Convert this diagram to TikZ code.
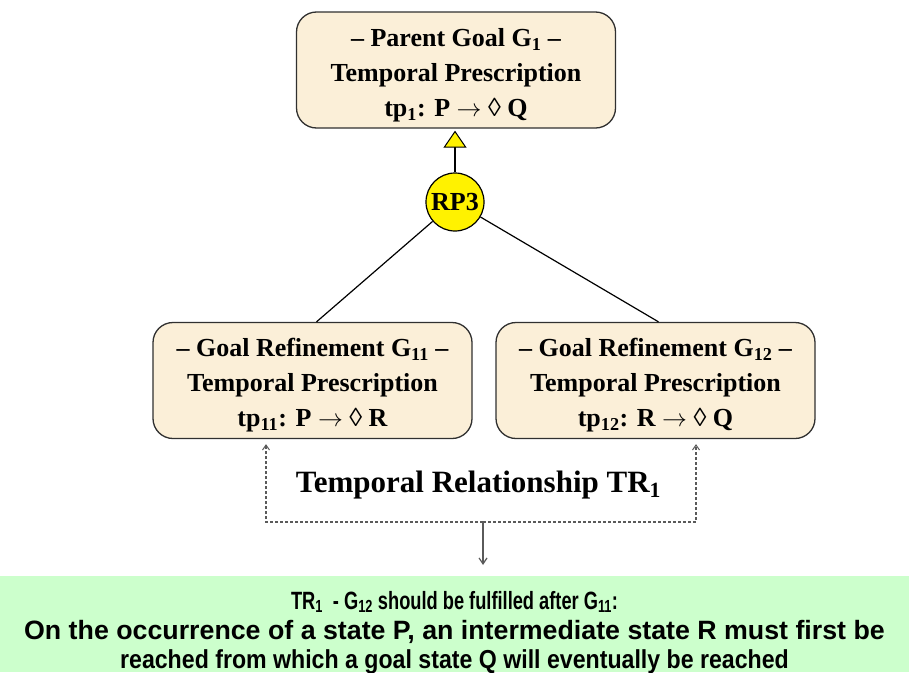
\documentclass[tikz,border=0pt]{standalone}
\usepackage{fontspec}
\setmainfont{Liberation Serif}
\newfontfamily\notefont{Liberation Sans}
\usetikzlibrary{arrows.meta}
\definecolor{parch}{HTML}{FBEFD8}
\definecolor{boxline}{HTML}{303030}
\definecolor{notegreen}{HTML}{CCFFCC}
\definecolor{relgray}{HTML}{5A5A5A}
\newcommand{\implarrow}{\ensuremath{\rightarrow}}
% one line of the explanation: horizontal scale, font size, text
\newcommand{\noteline}[3]{\scalebox{#1}[1]{\fontsize{#2}{#2}\selectfont #3}}
\begin{document}
\begin{tikzpicture}[x=1pt,y=-1pt,
  goalbox/.style={draw=boxline, line width=1.3pt, fill=parch,
    rounded corners=20pt, minimum width=319pt, minimum height=116pt,
    inner sep=0pt, align=center,
    font=\fontsize{26}{35}\selectfont\bfseries},
  refnode/.style={circle, draw=black, line width=1.2pt, fill=yellow,
    minimum size=58pt, inner sep=0pt,
    font=\fontsize{26}{30}\selectfont\bfseries},
  link/.style={draw=black, line width=1.2pt},
  relpath/.style={draw=relgray, line width=1.1pt, dash pattern=on 2.6pt off 2.4pt,
    -{Straight Barb[length=5pt,width=7pt,line width=1pt]}, shorten >=5pt},
  relout/.style={draw=relgray, line width=1.6pt,
    -{Straight Barb[length=6pt,width=8pt,line width=1.2pt]}, shorten >=11pt}]
\useasboundingbox (0,0) rectangle (909,672);

% goals
\node[goalbox] (top) at (456,70)
  {\rule{0pt}{29pt}– Parent Goal G\textsubscript{1} –\\
   Temporal Prescription\\
   tp\textsubscript{1}: P \implarrow\ ◊ Q};
\node[goalbox] (left) at (312.5,380.5)
  {\rule{0pt}{28pt}– Goal Refinement G\textsubscript{11} –\\
   Temporal Prescription\\
   tp\textsubscript{11}: P \implarrow\ ◊ R};
\node[goalbox] (right) at (655.5,380.5)
  {\rule{0pt}{28pt}– Goal Refinement G\textsubscript{12} –\\
   Temporal Prescription\\
   tp\textsubscript{12}: R \implarrow\ ◊ Q};

% refinement pattern
\node[refnode] (rp3) at (455,202) {RP3};
\draw[link, -{Triangle[length=17pt,width=23pt,fill=yellow,line width=1pt]},
  shorten >=2pt] (rp3) -- (rp3 |- top.south);
\draw[link] (rp3) -- ([xshift=4pt]left.north);
\draw[link] (rp3) -- ([xshift=3pt]right.north);

% temporal relationship
\node[anchor=base, inner sep=0pt, font=\fontsize{31}{36}\selectfont\bfseries]
  (trl) at (478.5,492) {Temporal Relationship TR\textsubscript{1}};
\coordinate (jm) at (483,522);
\coordinate (jl) at (266,522);
\coordinate (jr) at (696,522);
\draw[relpath] (jm) -- (jl) -- (jl |- left.south);
\draw[relpath] (jm) -- (jr) -- (jr |- right.south);

% explanation
\node[fill=notegreen, minimum width=909pt, minimum height=96pt, inner sep=0pt,
  anchor=north west] (notebox) at (0,576) {};
\draw[relout] (jm) -- (jm |- notebox.north);
\node[anchor=north, inner sep=0pt, align=center,
  font=\notefont\bfseries\fontsize{25}{28.5}\selectfont] (note) at (454.5,589)
  {\rule{0pt}{20pt}\noteline{0.73}{25}{TR\textsubscript{1}\ \ - G\textsubscript{12} should be fulfilled after G\textsubscript{11}:}\\[2pt]
   \noteline{1.01}{26.5}{On the occurrence of a state P, an intermediate state R must first be}\\
   \noteline{0.89}{26}{reached from which a goal state Q will eventually be reached}};
\end{tikzpicture}
\end{document}
